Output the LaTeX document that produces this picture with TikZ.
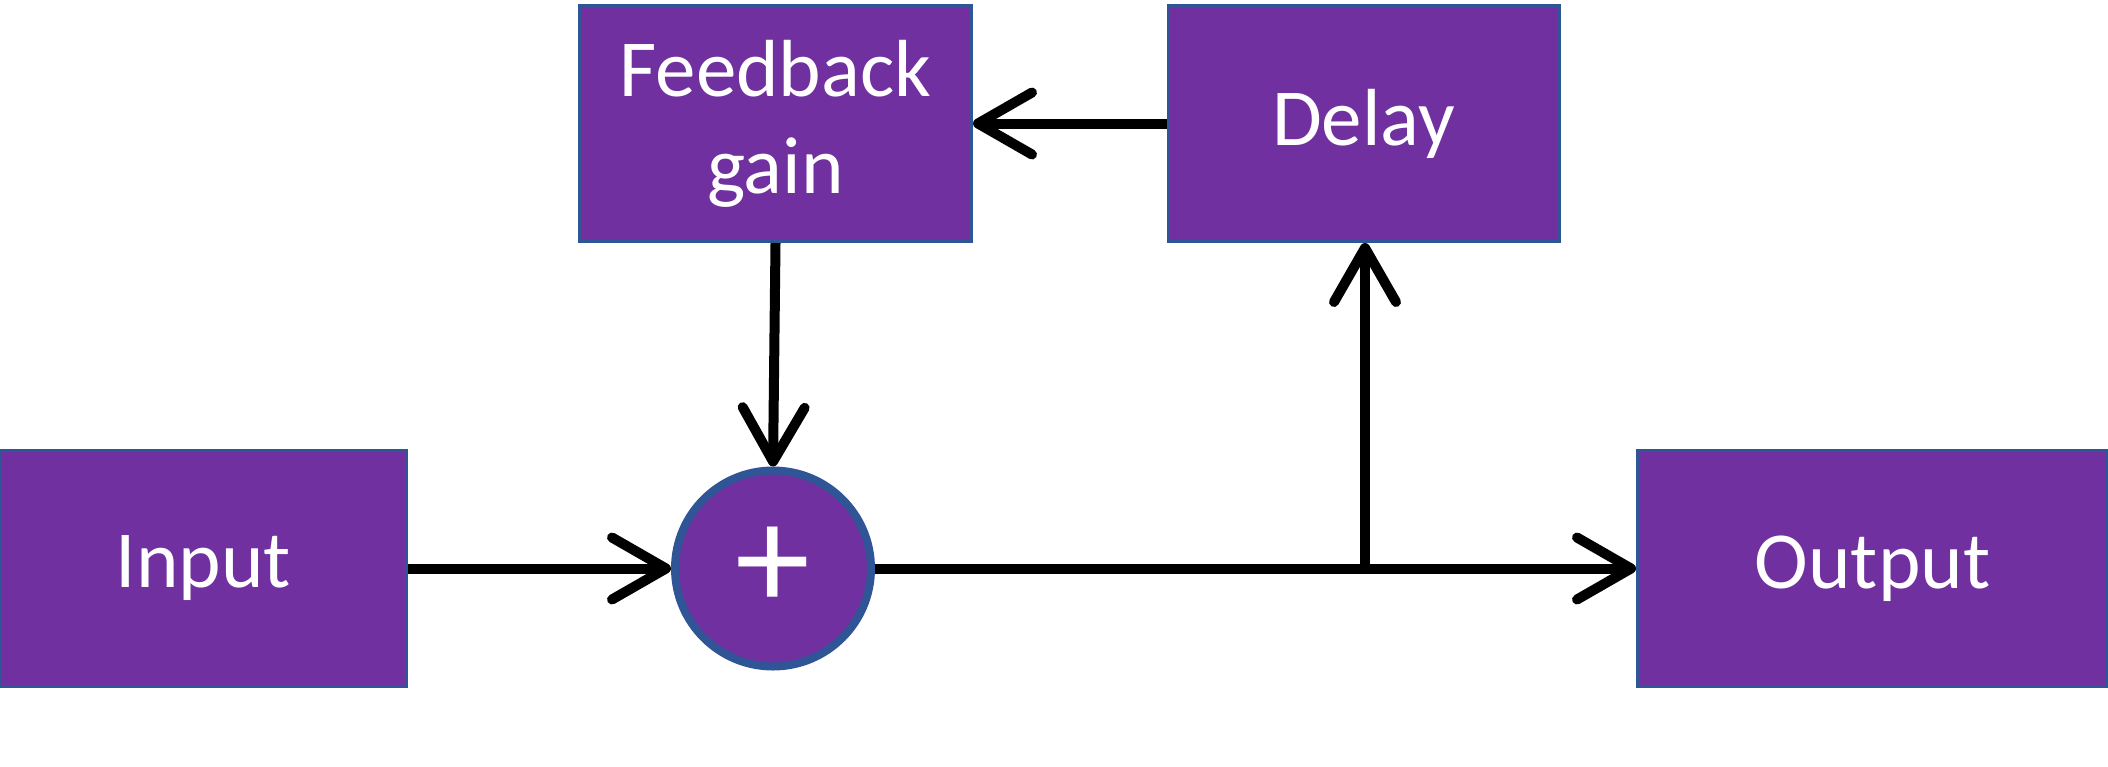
\documentclass[tikz,border=0pt]{standalone}
\usepackage{fontspec}
\setmainfont{Carlito}
\usetikzlibrary{arrows.meta}
\definecolor{boxpurple}{HTML}{7030A0}
\definecolor{boxblue}{HTML}{2F5597}
\begin{document}
\begin{tikzpicture}[x=0.5pt,y=-0.5pt,
  blockbox/.style={draw=boxblue,line width=1.5pt,fill=boxpurple,text=white,
    font=\fontsize{40.5}{48.6}\selectfont,align=center,inner sep=0pt},
  sumnode/.style={circle,draw=boxblue,line width=4pt,fill=boxpurple,text=white,
    inner sep=0pt,font=\fontsize{75}{80}\selectfont},
  conn/.style={line width=5pt,-{Straight Barb[length=27pt,width=31pt,round]}},
  plain/.style={line width=5pt}]
\useasboundingbox (0,0) rectangle (2108,766);
\node[blockbox,minimum width=203pt,minimum height=118pt] (in) at (203.5,568.5) {Input};
\node[blockbox,minimum width=235pt,minimum height=118pt] (out) at (1872.5,568.5) {Output};
\node[blockbox,minimum width=196pt,minimum height=118pt] (fb) at (775.5,123.5) {Feedback\\gain};
\node[blockbox,minimum width=195.5pt,minimum height=118pt] (dl) at (1363.5,123.5) {Delay};
\node[sumnode,minimum size=98pt] (sum) at (773,568.5) {+};
\coordinate (j) at (1365,568.5);
\draw[conn] (in.east) -- (sum.west);
\draw[plain] (sum.east) -- (j);
\draw[conn] (j) -- (out.west);
\draw[conn] (j) -- (dl.south -| j);
\draw[conn] (dl.west) -- (fb.east);
\draw[conn] (fb.south) -- (sum.north);
\end{tikzpicture}
\end{document}
